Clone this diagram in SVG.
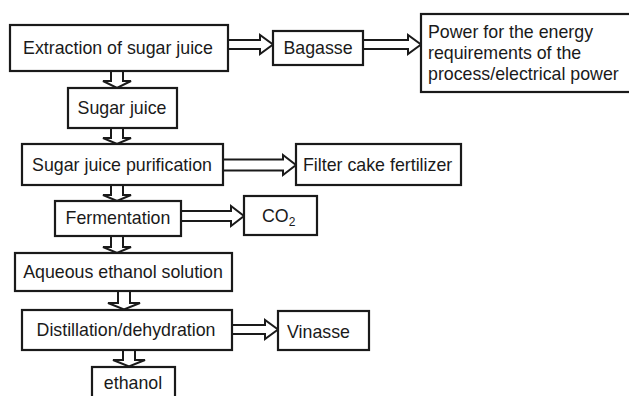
<svg xmlns="http://www.w3.org/2000/svg" width="629" height="396" viewBox="0 0 629 396">
<style>
.box{fill:#fff;stroke:#1a1a1a;stroke-width:2.2}
.arr{fill:#fff;stroke:#1a1a1a;stroke-width:2;stroke-linejoin:miter}
text{font-family:"Liberation Sans",Arial,sans-serif;font-size:17.8px;fill:#1a1a1a}
.c{text-anchor:middle}
</style>
<rect width="629" height="396" fill="#fff"/>
<g id="connectors">
<polygon class="arr" points="228,40 260,40 260,35 273,44.5 260,54 260,49 228,49"/>
<polygon class="arr" points="363,40 408,40 408,35 421,44.5 408,54 408,49 363,49"/>
<polygon class="arr" points="111,71 111,81 103,81 117,88 131,81 123,81 123,71"/>
<polygon class="arr" points="111,128 111,138 103,138 117,144 131,138 123,138 123,128"/>
<polygon class="arr" points="223,159.5 283,159.5 283,155 296,165 283,175 283,170.5 223,170.5"/>
<polygon class="arr" points="111,185 111,195 103,195 117,201 131,195 123,195 123,185"/>
<polygon class="arr" points="181,211 231,211 231,206 244,216 231,226 231,221 181,221"/>
<polygon class="arr" points="111,236 111,247 103,247 117,253 131,247 123,247 123,236"/>
<polygon class="arr" points="118,291 118,303 108,303 124,309.5 140,303 130,303 130,291"/>
<polygon class="arr" points="232,325 265,325 265,320 278,329.5 265,339 265,334 232,334"/>
<polygon class="arr" points="123,350 123,360 113,360 129,366.5 145,360 135,360 135,350"/>
</g>
<g id="extraction"><rect class="box" x="10" y="25" width="218" height="46"/><text class="c" x="118" y="54">Extraction of sugar juice</text></g>
<g id="bagasse"><rect class="box" x="273" y="31" width="90" height="34"/><text class="c" x="318" y="54">Bagasse</text></g>
<g id="power"><rect class="box" x="421" y="14" width="212" height="78"/><text x="428" y="38">Power for the energy</text><text x="428" y="59">requirements of the</text><text x="428" y="80">process/electrical power</text></g>
<g id="sugarjuice"><rect class="box" x="68" y="88" width="109" height="40"/><text class="c" x="122" y="114">Sugar juice</text></g>
<g id="purification"><rect class="box" x="22" y="144" width="201" height="41"/><text class="c" x="122" y="171">Sugar juice purification</text></g>
<g id="filtercake"><rect class="box" x="296" y="144" width="165" height="41"/><text x="303" y="171">Filter cake fertilizer</text></g>
<g id="fermentation"><rect class="box" x="55" y="201" width="126" height="35"/><text class="c" x="118" y="224">Fermentation</text></g>
<g id="co2"><rect class="box" x="244" y="196" width="73" height="39"/><text x="262" y="222">CO<tspan font-size="12" dy="4">2</tspan></text></g>
<g id="aqueous"><rect class="box" x="15" y="253" width="217" height="38"/><text class="c" x="123" y="278">Aqueous ethanol solution</text></g>
<g id="distillation"><rect class="box" x="22" y="310" width="210" height="40"/><text class="c" x="126" y="336">Distillation/dehydration</text></g>
<g id="vinasse"><rect class="box" x="278" y="311" width="91" height="39"/><text x="287" y="338">Vinasse</text></g>
<g id="ethanol"><rect class="box" x="92" y="367" width="83" height="40"/><text class="c" x="133" y="389">ethanol</text></g>
</svg>
